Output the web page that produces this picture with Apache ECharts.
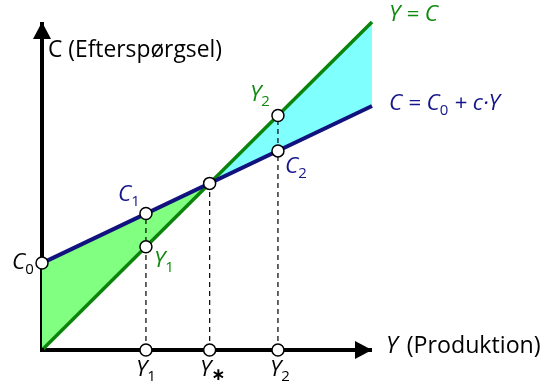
<!DOCTYPE html>
<html>
<head>
<meta charset="utf-8">
<script src="https://cdn.jsdelivr.net/npm/echarts@6/dist/echarts.min.js"></script>
<style>
html,body{margin:0;padding:0;background:#fff;}
#chart{width:546px;height:385px;}
</style>
</head>
<body>
<div id="chart"></div>
<script>
// ---- data ----
const axisMax = 10;
const C0 = 2.65;          // intercept of consumption line
const blueEnd = 7.44;     // C at Y = axisMax
const Ystar = 5.08;       // equilibrium
const Y1 = 3.15;
const Y2 = 7.15;
const C1 = 4.16;          // C at Y1
const C2 = 6.07;          // C at Y2
const greenLine = [[0, 0], [axisMax, axisMax]];
const blueLine = [[0, C0], [axisMax, blueEnd]];
const greenArea = [[0, 0], [0, C0], [Ystar, Ystar]];
const cyanArea = [[Ystar, Ystar], [axisMax, axisMax], [axisMax, blueEnd]];
const dropLines = [[Y1, C1], [Ystar, Ystar], [Y2, Y2]];
const points = [[0, C0], [Y1, C1], [Y1, Y1], [Ystar, Ystar], [Y2, Y2], [Y2, C2], [Y1, 0], [Ystar, 0], [Y2, 0]];

const GREEN = '#0c840c';
const BLUE = '#12127f';
const TGREEN = '#0f8a0f';
const TBLUE = '#15158a';
const FONT = 'Open Sans';

// size fonts so that text widths match the reference
const mctx = document.createElement('canvas').getContext('2d');
function fit(text, style, target) {
  mctx.font = style + ' 20px "' + FONT + '"';
  const w = mctx.measureText(text).width;
  return Math.round(20 * target / w * 10) / 10;
}
const TITLE_FS = Math.min(24, Math.max(17, fit('C (Efterspørgsel)', 'normal', 174)));
const XNAME_FS = Math.min(25, Math.max(18, fit('(Produktion)', 'normal', 134)));
const MS = Math.min(24, Math.max(18, fit('Y = C', 'italic', 49)));
const SUB = Math.round(MS * 0.68);

const chart = echarts.init(document.getElementById('chart'), null, {renderer: 'canvas'});

function polySeries(pts, color) {
  return {
    type: 'custom',
    coordinateSystem: 'cartesian2d',
    data: [0],
    silent: true,
    z: 1,
    renderItem: function (params, api) {
      return {
        type: 'polygon',
        shape: {points: pts.map(p => api.coord(p))},
        style: {fill: color, stroke: null}
      };
    }
  };
}

const dropSeries = dropLines.map(p => ({
  type: 'line',
  data: [[p[0], 0], p],
  symbol: 'none',
  silent: true,
  z: 2,
  lineStyle: {color: '#111', width: 1.3, type: [5, 4]}
}));

let gid = 0;
function mathText(left, y, richStr, color) {
  return {
    id: 't' + (gid++), type: 'text', left: left, top: y - 14, z: 100,
    style: {
      text: richStr,
      fill: color,
      font: 'italic ' + MS + 'px "' + FONT + '"',
      rich: {
        i: {fontStyle: 'italic', fontSize: MS, lineHeight: 28, verticalAlign: 'middle', fill: color, fontFamily: FONT},
        n: {fontStyle: 'normal', fontSize: MS, lineHeight: 28, verticalAlign: 'middle', fill: color, fontFamily: FONT},
        s: {fontSize: SUB, fontStyle: 'normal', verticalAlign: 'bottom', lineHeight: 9, fill: color, fontFamily: FONT},
        st: {fontSize: 17, fontStyle: 'normal', fontWeight: 'bold', verticalAlign: 'bottom', lineHeight: 6, fill: color, fontFamily: 'DejaVu Sans'}
      }
    }
  };
}

function axisDef() {
  return {
    type: 'value', min: 0, max: axisMax,
    axisLine: {show: true, onZero: false, symbol: 'none',
      lineStyle: {color: '#000', width: 4, cap: 'butt'}},
    axisTick: {show: false}, axisLabel: {show: false}, splitLine: {show: false}
  };
}

const texts = [
  {id: 'title', type: 'text', left: 48, top: 39, z: 100,
    style: {text: 'C (Efterspørgsel)', fill: '#000', font: TITLE_FS + 'px "' + FONT + '"'}},
  mathText(389, 18, '{i|Y = C}', TGREEN),
  mathText(389, 107, '{i|C = C}{s|0}{i| + c·Y}', TBLUE),
  mathText(250, 98, '{i|Y}{s|2}', TGREEN),
  mathText(285, 170, '{i|C}{s|2}', TBLUE),
  mathText(118, 198, '{i|C}{s|1}', TBLUE),
  mathText(154, 264, '{i|Y}{s|1}', TGREEN),
  mathText(12, 266, '{i|C}{s|0}', '#000'),
  mathText(136, 373, '{i|Y}{s|1}', '#000'),
  mathText(200, 373, '{i|Y}{st|∗}', '#000'),
  mathText(270, 373, '{i|Y}{s|2}', '#000'),
  {id: 'xname', type: 'text', left: 386, top: 335, z: 100, style: {
    text: '{i|Y}{n|(Produktion)}', fill: '#000',
    rich: {
      i: {fontStyle: 'italic', fontSize: XNAME_FS, fontFamily: FONT, fill: '#000', padding: [0, 9, 0, 0]},
      n: {fontStyle: 'normal', fontSize: XNAME_FS, fontFamily: FONT, fill: '#000'}
    }}}
];

const option = {
  animation: false,
  backgroundColor: '#ffffff',
  grid: {left: 42, right: 174, top: 22, bottom: 35, containLabel: false},
  xAxis: axisDef(),
  yAxis: axisDef(),
  series: [
    polySeries(greenArea, '#80ff80'),
    polySeries(cyanArea, '#80ffff'),
    ...dropSeries,
    {type: 'line', data: greenLine, symbol: 'none', silent: true, z: 3, lineStyle: {color: GREEN, width: 3.5}},
    {type: 'line', data: blueLine, symbol: 'none', silent: true, z: 3, lineStyle: {color: BLUE, width: 4}},
    {type: 'scatter', data: points, symbol: 'circle', symbolSize: 12, silent: true, z: 5,
      itemStyle: {color: '#fff', borderColor: '#000', borderWidth: 1.5, opacity: 1}}
  ],
  graphic: texts
};
chart.setOption(option);

// arrowheads at the axis ends, located through the axis scales
const org = chart.convertToPixel({gridIndex: 0}, [0, 0]);
const xEnd = chart.convertToPixel({gridIndex: 0}, [axisMax, 0]);
const yEnd = chart.convertToPixel({gridIndex: 0}, [0, axisMax]);
const AL = 17, AW = 9;
chart.setOption({
  graphic: [
    {id: 'xArrow', type: 'polygon', z: 50, silent: true,
      shape: {points: [[xEnd[0], org[1]], [xEnd[0] - AL, org[1] - AW], [xEnd[0] - AL, org[1] + AW]]},
      style: {fill: '#000'}},
    {id: 'yArrow', type: 'polygon', z: 50, silent: true,
      shape: {points: [[org[0], yEnd[1]], [org[0] - AW, yEnd[1] + AL], [org[0] + AW, yEnd[1] + AL]]},
      style: {fill: '#000'}},
    {id: 'corner', type: 'rect', z: 50, silent: true,
      shape: {x: org[0] - 2, y: org[1] - 2, width: 4, height: 4}, style: {fill: '#000'}}
  ]
});
</script>
</body>
</html>
